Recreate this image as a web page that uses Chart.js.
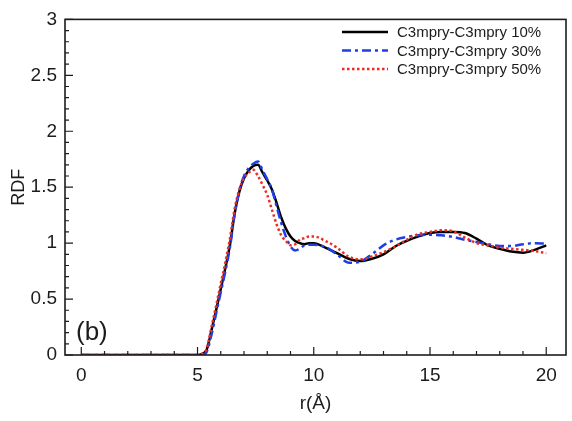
<!DOCTYPE html>
<html>
<head>
<meta charset="utf-8">
<script src="https://cdn.jsdelivr.net/npm/chart.js@4"></script>
<style>
  html, body { margin: 0; padding: 0; background: #fff; }
  #wrap { width: 572px; height: 421px; }
</style>
</head>
<body>
<div id="wrap"><canvas id="rdf" width="572" height="421"></canvas></div>
<script>
// r in angstrom, shared by the three curves
const rValues = [0, 1, 2, 3, 4, 5, 5.2, 5.4, 5.6, 5.8, 6.0, 6.2, 6.4, 6.6, 6.8, 7.0, 7.2, 7.4, 7.6, 7.8,
    8.0, 8.2, 8.4, 8.6, 8.8, 9.0, 9.2, 9.4, 9.6, 9.8, 10.0, 10.5, 11.0, 11.5, 12.0, 12.5, 13.0, 13.5,
    14.0, 14.5, 15.0, 15.5, 16.0, 16.5, 17.0, 17.5, 18.0, 18.5, 19.0, 19.5, 20.0];

const rdf10 = [0, 0, 0, 0, 0, 0, 0.01, 0.05, 0.22, 0.40, 0.59, 0.78, 0.99, 1.27, 1.46, 1.58, 1.65, 1.69, 1.70, 1.63,
    1.56, 1.48, 1.36, 1.23, 1.13, 1.06, 1.02, 1.00, 0.99, 1.00, 1.00, 0.96, 0.91, 0.86, 0.84, 0.86, 0.90, 0.97,
    1.02, 1.06, 1.09, 1.10, 1.10, 1.09, 1.04, 0.98, 0.95, 0.925, 0.915, 0.94, 0.98];

const rdf30 = [0, 0, 0, 0, 0, 0, 0.0, 0.03, 0.18, 0.37, 0.56, 0.75, 0.97, 1.26, 1.47, 1.60, 1.67, 1.71, 1.73, 1.65,
    1.57, 1.48, 1.33, 1.18, 1.06, 0.97, 0.935, 0.95, 0.98, 0.985, 0.985, 0.965, 0.90, 0.825, 0.835, 0.90, 0.98, 1.03,
    1.055, 1.07, 1.075, 1.07, 1.055, 1.03, 1.01, 0.99, 0.975, 0.975, 0.99, 1.00, 0.995];

const rdf50 = [0, 0, 0, 0, 0, 0, 0.01, 0.06, 0.25, 0.44, 0.64, 0.83, 1.05, 1.31, 1.48, 1.58, 1.63, 1.655, 1.60, 1.52,
    1.43, 1.30, 1.17, 1.07, 1.02, 0.98, 0.99, 1.03, 1.045, 1.06, 1.06, 1.02, 0.96, 0.88, 0.855, 0.88, 0.92, 0.97,
    1.03, 1.08, 1.10, 1.115, 1.105, 1.05, 1.00, 0.98, 0.96, 0.95, 0.94, 0.93, 0.91];

const seriesLabels = ['C3mpry-C3mpry 10%', 'C3mpry-C3mpry 30%', 'C3mpry-C3mpry 50%'];
const xTicks = [0, 5, 10, 15, 20];
const yTicks = [0, 0.5, 1, 1.5, 2, 2.5, 3];

const FONT = "'Liberation Sans', Arial, Helvetica, sans-serif";
const INK = '#1c1c1c';

function makeSeries(label, values, color, dash, order) {
    return {
        label: label,
        data: rValues.map((r, i) => ({ x: r, y: values[i] })),
        borderColor: color,
        borderWidth: 2.5,
        borderDash: dash,
        borderCapStyle: 'butt',
        pointRadius: 0,
        fill: false,
        cubicInterpolationMode: 'monotone',
        order: order
    };
}

// inward tick marks, frame box, legend and panel tag
const framePlugin = {
    id: 'frame',
    afterDraw(chart) {
        const ctx = chart.ctx;
        const area = chart.chartArea;
        const xs = chart.scales.x;
        const ys = chart.scales.y;
        ctx.save();
        ctx.strokeStyle = INK;
        ctx.lineWidth = 1.2;
        ctx.beginPath();
        for (let v = 0; v <= 20; v += 1) {
            const px = xs.getPixelForValue(v);
            const len = v % 5 === 0 ? 8 : 4;
            ctx.moveTo(px, area.bottom);
            ctx.lineTo(px, area.bottom - len);
        }
        for (let k = 0; k <= 30; k++) {
            const py = ys.getPixelForValue(k / 10);
            const len = k % 5 === 0 ? 8 : 4;
            ctx.moveTo(area.left, py);
            ctx.lineTo(area.left + len, py);
        }
        ctx.stroke();

        ctx.lineWidth = 1.6;
        ctx.strokeRect(area.left, area.top, area.right - area.left, area.bottom - area.top);

        // legend
        ctx.font = '15px ' + FONT;
        ctx.textBaseline = 'middle';
        ctx.textAlign = 'left';
        const rowY = [32, 50.5, 69];
        chart.data.datasets.forEach((ds, i) => {
            const y = rowY[i];
            ctx.strokeStyle = ds.borderColor;
            ctx.lineWidth = ds.borderWidth;
            ctx.setLineDash(ds.borderDash);
            ctx.beginPath();
            ctx.moveTo(342, y);
            ctx.lineTo(388, y);
            ctx.stroke();
            ctx.setLineDash([]);
            ctx.fillStyle = INK;
            ctx.fillText(ds.label, 397, y + 1);
        });

        ctx.font = '26px ' + FONT;
        ctx.fillStyle = INK;
        ctx.fillText('(b)', area.left + 11, area.bottom - 22);
        ctx.restore();
    }
};

new Chart(document.getElementById('rdf').getContext('2d'), {
    type: 'line',
    data: {
        datasets: [
            makeSeries(seriesLabels[0], rdf10, '#000000', [], 2),
            makeSeries(seriesLabels[1], rdf30, '#1f3fe6', [9, 4, 3, 4], 1),
            makeSeries(seriesLabels[2], rdf50, '#ec2d24', [2.5, 2.5], 0)
        ]
    },
    options: {
        responsive: false,
        animation: false,
        layout: { padding: { top: 15, right: 6, left: 0, bottom: 0 } },
        plugins: {
            legend: { display: false },
            tooltip: { enabled: false }
        },
        scales: {
            x: {
                type: 'linear',
                min: -0.7,
                max: 20.85,
                grid: { display: false, drawTicks: false },
                border: { display: false },
                afterBuildTicks: s => { s.ticks = xTicks.map(v => ({ value: v })); },
                afterFit: s => { s.height = 66; },
                ticks: {
                    color: INK, padding: 9, maxRotation: 0,
                    font: { family: FONT, size: 19 },
                    callback: v => String(v)
                },
                title: {
                    display: true,
                    text: 'r(Å)',
                    color: INK,
                    font: { family: FONT, size: 19 },
                    padding: { top: 0, bottom: 6 }
                }
            },
            y: {
                min: 0,
                max: 3,
                grid: { display: false, drawTicks: false },
                border: { display: false },
                afterBuildTicks: s => { s.ticks = yTicks.map(v => ({ value: v })); },
                afterFit: s => { s.width = 65; },
                ticks: {
                    color: INK, padding: 8,
                    font: { family: FONT, size: 19 },
                    callback: v => String(v)
                },
                title: {
                    display: true,
                    text: 'RDF',
                    color: INK,
                    font: { family: FONT, size: 18 },
                    padding: { top: 8, bottom: 0 }
                }
            }
        }
    },
    plugins: [framePlugin]
});
</script>
</body>
</html>
